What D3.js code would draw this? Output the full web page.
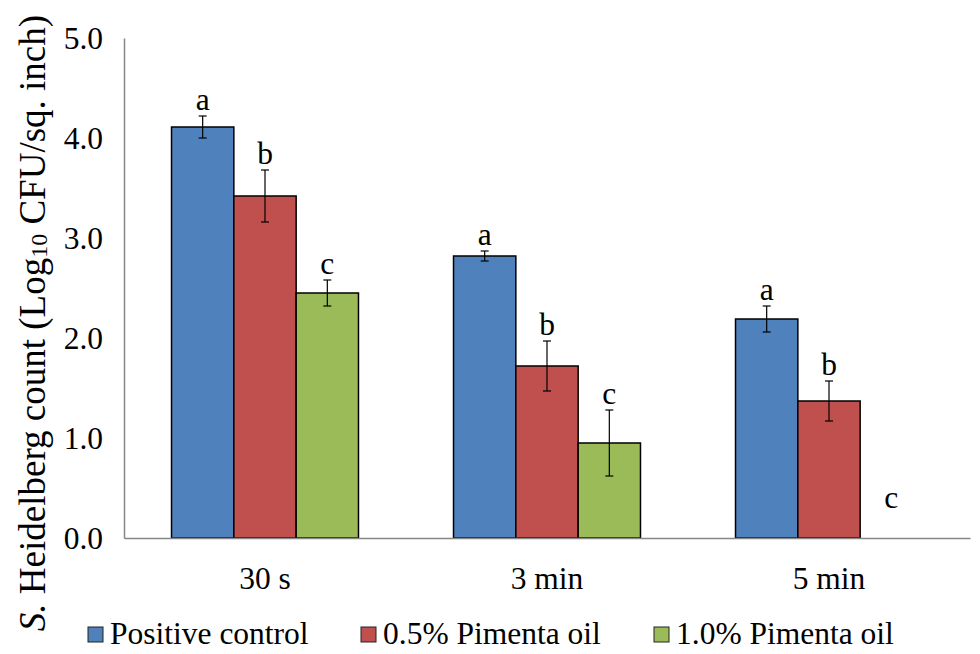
<!DOCTYPE html>
<html>
<head>
<meta charset="utf-8">
<script src="https://cdn.jsdelivr.net/npm/d3@7"></script>
<style>
  body { margin: 0; background: #fff; }
  svg text { font-family: 'Liberation Serif', 'DejaVu Serif', serif !important; fill: #000; }
</style>
</head>
<body>
<div id="chart"></div>
<script>
// values
var groups = ["30 s", "3 min", "5 min"];
var seriesNames = ["Positive control", "0.5% Pimenta oil", "1.0% Pimenta oil"];
var seriesColors = ["#4F81BD", "#C0504D", "#9BBB59"];
var control = [4.11, 2.82, 2.19];
var pimenta05 = [3.42, 1.72, 1.37];
var pimenta10 = [2.45, 0.95, 0.0];
var errControl = [0.11, 0.05, 0.13];
var errPimenta05 = [0.26, 0.25, 0.20];
var errPimenta10 = [0.13, 0.33, 0.0];
var letters = ["a", "b", "c"];
var yTicks = [0, 1, 2, 3, 4, 5];

var width = 980, height = 654;
var margin = {top: 38, right: 10, bottom: 116, left: 124};
var font = "'Liberation Serif', 'DejaVu Serif', serif";
var fontSize = "31.5px";

var svg = d3.select("#chart").append("svg")
    .attr("width", width)
    .attr("height", height)
    .attr("font-family", font);

var y = d3.scaleLinear()
    .domain([0, 5])
    .range([height - margin.bottom, margin.top]);

var x0 = d3.scaleBand()
    .domain(groups)
    .range([margin.left, width - margin.right])
    .paddingInner(0)
    .paddingOuter(0);

// bars take roughly two thirds of each category slot
var step = x0.bandwidth();
var inner = step * 0.663;
var x1 = d3.scaleBand()
    .domain(seriesNames)
    .range([(step - inner) / 2, (step + inner) / 2]);

var values = [control, pimenta05, pimenta10];
var errors = [errControl, errPimenta05, errPimenta10];

var rows = [];
groups.forEach(function(g, gi){
    seriesNames.forEach(function(s, si){
        rows.push({group: g, series: s, si: si, value: values[si][gi], err: errors[si][gi], letter: letters[si]});
    });
});

// axes
var yAxis = d3.axisLeft(y).tickValues(yTicks).tickSize(0).tickPadding(21)
    .tickFormat(d3.format(".1f"));
var gy = svg.append("g")
    .attr("transform", "translate(" + margin.left + ",0)")
    .call(yAxis)
    .attr("font-family", font);
gy.select(".domain").attr("stroke", "#868686").attr("stroke-width", 1.5);
gy.selectAll("text").style("font-size", fontSize).attr("dy", "0.34em");

// bars
var g = svg.append("g");
g.selectAll("rect")
    .data(rows.filter(function(d){ return d.value > 0; }))
    .enter()
    .append("rect")
    .attr("x", function(d){ return x0(d.group) + x1(d.series); })
    .attr("y", function(d){ return y(d.value); })
    .attr("width", x1.bandwidth())
    .attr("height", function(d){ return y(0) - y(d.value); })
    .attr("fill", function(d){ return seriesColors[d.si]; })
    .attr("stroke", "#000")
    .attr("stroke-width", 1.5);

var xAxis = d3.axisBottom(x0).tickSize(0).tickPadding(29);
var gx = svg.append("g")
    .attr("transform", "translate(0," + y(0) + ")")
    .call(xAxis)
    .attr("font-family", font);
gx.select(".domain").attr("stroke", "#868686").attr("stroke-width", 1.5);
gx.selectAll("text").style("font-size", fontSize);

// error bars
var eb = svg.append("g").attr("stroke", "#000").attr("stroke-width", 1.2);
rows.filter(function(d){ return d.err > 0; }).forEach(function(d){
    var cx = x0(d.group) + x1(d.series) + x1.bandwidth() / 2;
    eb.append("line").attr("x1", cx).attr("x2", cx)
        .attr("y1", y(d.value + d.err)).attr("y2", y(d.value - d.err));
    eb.append("line").attr("x1", cx - 4).attr("x2", cx + 4)
        .attr("y1", y(d.value + d.err)).attr("y2", y(d.value + d.err));
    eb.append("line").attr("x1", cx - 4).attr("x2", cx + 4)
        .attr("y1", y(d.value - d.err)).attr("y2", y(d.value - d.err));
});

// significance letters
svg.append("g").selectAll("text")
    .data(rows)
    .enter()
    .append("text")
    .attr("x", function(d){ return x0(d.group) + x1(d.series) + x1.bandwidth() / 2; })
    .attr("y", function(d){ return d.value > 0 ? y(d.value + d.err) - 6 : y(0) - 30; })
    .attr("text-anchor", "middle")
    .style("font-size", fontSize)
    .text(function(d){ return d.letter; });

// y axis title
var title = svg.append("text")
    .attr("transform", "translate(45," + ((y(0) + y(5)) / 2 + 35) + ") rotate(-90)")
    .attr("text-anchor", "middle")
    .style("font-size", "37px");
title.append("tspan").style("font-style", "italic").text("S.");
title.append("tspan").text(" Heidelberg count (Log");
title.append("tspan").style("font-size", "24px").attr("dy", 2).text("10");
title.append("tspan").attr("dy", -2).text(" CFU/sq. inch)");

// legend
var legendX = [88, 361, 654];
var legend = svg.append("g");
seriesNames.forEach(function(s, i){
    var item = legend.append("g").attr("transform", "translate(" + legendX[i] + ",634)");
    item.append("rect")
        .attr("x", 0).attr("y", -7)
        .attr("width", 15).attr("height", 15)
        .attr("fill", seriesColors[i])
        .attr("stroke", "#222")
        .attr("stroke-width", 1);
    item.append("text")
        .attr("x", 22).attr("y", 10)
        .style("font-size", fontSize)
        .text(s);
});
</script>
</body>
</html>
